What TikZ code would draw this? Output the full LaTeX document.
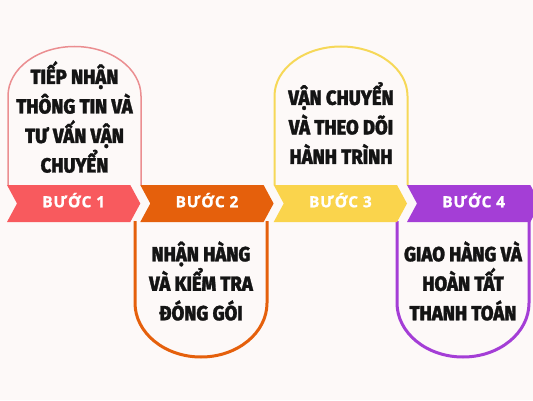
\documentclass[tikz,border=0pt]{standalone}
\usepackage{fontspec}
\setmainfont{Fira Sans}
\newfontfamily\cardfont{Fira Sans}[UprightFont=* ExtraBold,FakeStretch=0.9,FakeBold=1.4]
\newfontfamily\stepfont{Open Sans}[LetterSpace=5,FakeBold=1]
\definecolor{paper}{HTML}{FDF9F8}
\definecolor{stepone}{HTML}{F85A5E}
\definecolor{steptwo}{HTML}{E5600C}
\definecolor{stepthree}{HTML}{FAD44C}
\definecolor{stepfour}{HTML}{A43ED6}
\definecolor{lineone}{HTML}{EB8E91}
\definecolor{linethree}{HTML}{F6D858}
\tikzset{
	steplabel/.style={anchor=base,text=white,font=\stepfont\bfseries\fontsize{15.5}{18}\selectfont},
	cardtext/.style={align=center,text=black!92,font=\cardfont\fontsize{20.5}{29.5}\selectfont},
}
\newcommand{\drawchevron}[4]{
	\fill[#3] #1 -- ++(123.3,0) -- ++(10,-18.5) -- ++(-10,-18.5) -- ++(-123.3,0) -- ++(10,18.5) -- cycle;
	\draw #1 ++(66.7,-22.3) node (#2) [steplabel] {#4};
}
\newcommand{\drawcardup}[5]{
	\draw[#3] #1 -- ++(0,89) arc[start angle=180,end angle=0,x radius=66.5,y radius=49.5] -- ++(0,-89);
	\draw #1 ++(66.5,#4) node (#2) [cardtext] {#5};
}
\newcommand{\drawcarddown}[5]{
	\draw[#3] #1 -- ++(0,-82) arc[start angle=180,end angle=360,x radius=66,y radius=54] -- ++(0,82);
	\draw #1 ++(66,#4) node (#2) [cardtext] {#5};
}

\begin{document}
\begin{tikzpicture}[x=1pt,y=1pt]
\useasboundingbox (0,0) rectangle (533,400);
\fill[paper] (0,0) rectangle (533,400);
% top cards
\drawcardup{(8,215)}{card1}{lineone,line width=1.5pt}{68}{TIẾP NHẬN\\THÔNG TIN VÀ\\TƯ VẤN VẬN\\CHUYỂN};
\drawcardup{(274.5,215)}{card3}{linethree,line width=2pt}{62}{VẬN CHUYỂN\\VÀ THEO DÕI\\HÀNH TRÌNH};
% bottom cards
\drawcarddown{(135,179)}{card2}{steptwo,line width=3pt}{-60}{NHẬN HÀNG\\VÀ KIỂM TRA\\ĐÓNG GÓI};
\drawcarddown{(397,179)}{card4}{stepfour,line width=3pt}{-60}{GIAO HÀNG VÀ\\HOÀN TẤT\\THANH TOÁN};
% step band
\drawchevron{(7,215)}{step1}{stepone}{BƯỚC 1}
\drawchevron{(140.3,215)}{step2}{steptwo}{BƯỚC 2}
\drawchevron{(273.7,215)}{step3}{stepthree}{BƯỚC 3}
\drawchevron{(407,215)}{step4}{stepfour}{BƯỚC 4}
\end{tikzpicture}
\end{document}
